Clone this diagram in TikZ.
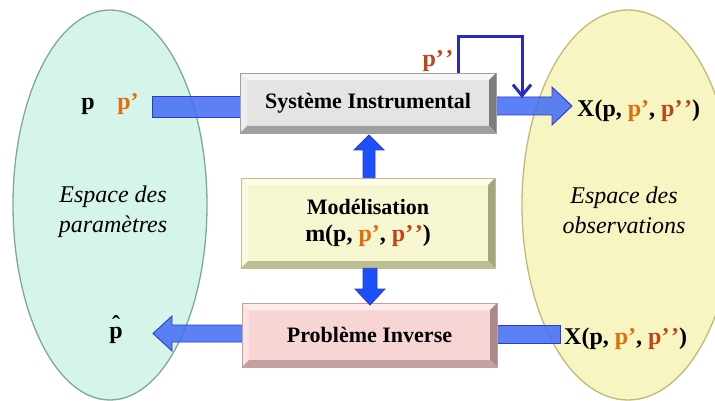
\documentclass[tikz,border=0pt]{standalone}
\usepackage{fontspec}
\setmainfont{Liberation Serif}
\usetikzlibrary{shapes.geometric,calc,arrows.meta}
\definecolor{porange}{HTML}{E46C0A}
\definecolor{pred}{HTML}{C0441A}
\definecolor{arrowfill}{RGB}{70,112,245}
\definecolor{arrowedge}{RGB}{45,60,200}
\definecolor{varrowfill}{RGB}{30,80,250}
\definecolor{fbblue}{RGB}{40,40,195}
\definecolor{lfill}{HTML}{D5F5EB}
\definecolor{ledge}{HTML}{7FA898}
\definecolor{rfill}{HTML}{F7F5C2}
\definecolor{redge}{HTML}{C2BA72}
% box colours
\definecolor{sysfill}{HTML}{E4E4E4}
\definecolor{systop}{HTML}{F6F6F6}
\definecolor{sysleft}{HTML}{EDEDED}
\definecolor{sysright}{HTML}{7C7C7C}
\definecolor{sysbot}{HTML}{A0A0A0}
\definecolor{modfill}{HTML}{F6F6D0}
\definecolor{modtop}{HTML}{FDFDEA}
\definecolor{modleft}{HTML}{FAFADF}
\definecolor{modright}{HTML}{A4A47E}
\definecolor{modbot}{HTML}{BDBD96}
\definecolor{invfill}{HTML}{F8D5D5}
\definecolor{invtop}{HTML}{FDEDED}
\definecolor{invleft}{HTML}{FBE3E3}
\definecolor{invright}{HTML}{A88888}
\definecolor{invbot}{HTML}{C4A0A0}
\newcommand\twoq{’\kern1.5pt’}
\newcommand\myX{X(p, \textcolor{porange}{p’}, \textcolor{pred}{p\twoq})}
\newcommand\myM{m(p, \textcolor{porange}{p’}, \textcolor{pred}{p\twoq})}
\newcommand\harrow[5]{%
  \draw[blk] let \p1=(#1), \p2=(#2), \p3=($(#2)!#5!(#1)$) in
    (\x1,\y2+#3) -- (\x3,\y2+#3) -- (\x3,\y2+#4) -- (\x2,\y2) --
    (\x3,\y2-#4) -- (\x3,\y2-#3) -- (\x1,\y2-#3) -- cycle;}
\newcommand\varrow[5]{%
  \draw[vblk] let \p1=(#1), \p2=(#2), \p3=($(#2)!#5!(#1)$) in
    (\x2+#3,\y1) -- (\x2+#3,\y3) -- (\x2+#4,\y3) -- (\x2,\y2) --
    (\x2-#4,\y3) -- (\x2-#3,\y3) -- (\x2-#3,\y1) -- cycle;}
\tikzset{
  bevel/.style n args={5}{fill=#1, draw=#5, line width=0.6pt,
    path picture={
      \path (path picture bounding box.north west) coordinate (bNW)
            (path picture bounding box.north east) coordinate (bNE)
            (path picture bounding box.south west) coordinate (bSW)
            (path picture bounding box.south east) coordinate (bSE);
      \fill[#2] (bNW) -- (bNE) -- ($(bNE)+(-7pt,-7pt)$) -- ($(bNW)+(7pt,-7pt)$) -- cycle;
      \fill[#3] (bNW) -- (bSW) -- ($(bSW)+(7pt,7pt)$) -- ($(bNW)+(7pt,-7pt)$) -- cycle;
      \fill[#4] (bNE) -- (bSE) -- ($(bSE)+(-7pt,7pt)$) -- ($(bNE)+(-7pt,-7pt)$) -- cycle;
      \fill[#5] (bSW) -- (bSE) -- ($(bSE)+(-7pt,7pt)$) -- ($(bSW)+(7pt,7pt)$) -- cycle;
    }},
  boxfont/.style={font=\fontsize{22}{28}\selectfont\bfseries, align=center, inner sep=0pt}
}
\begin{document}
\begin{tikzpicture}[x=1pt,y=-1pt,
  bfont/.style={font=\fontsize{24}{28}\selectfont\bfseries, inner sep=0pt},
  ifont/.style={font=\fontsize{24}{30}\selectfont\itshape, inner sep=0pt, align=center},
  blk/.style={fill=arrowfill, fill opacity=0.88, draw=arrowedge, line width=0.9pt},
  vblk/.style={fill=varrowfill, draw=arrowedge, line width=0.8pt},
  fb/.style={draw=fbblue, line width=3pt, -{Straight Barb[length=11pt,width=18pt]}},
  spaceell/.style n args={2}{ellipse, fill=#1, draw=#2, line width=1.3pt, inner sep=0pt},
]
\useasboundingbox (0,0) rectangle (715,401);
\fill[white] (0,0) rectangle (715,401);

% spaces
\node[spaceell={lfill}{ledge}, minimum width=194pt, minimum height=390pt] (lell) at (110,205) {};
\node[spaceell={rfill}{redge}, minimum width=212pt, minimum height=390pt] (rell) at (628,205) {};

% texts in spaces
\node[ifont] (lsp) at (113,212) {Espace des\\paramètres};
\node[ifont] (rsp) at (624,210) {Espace des\\observations};
\node[bfont, anchor=base] (p1) at (88,110) {p};
\node[bfont, anchor=base, text=porange] (p2) at (128,110) {p’};
\node[bfont, anchor=base] (ph) at (116,338) {\ooalign{p\cr\hidewidth\raisebox{0.22em}{ˆ}\hidewidth\cr}};
\node[bfont, anchor=base west] (xtop) at (577,117) {\myX};
\node[bfont, anchor=base west] (xbot) at (564,344) {\myX};
\node[bfont, anchor=base, text=pred] (p3) at (438,67) {p\twoq};

% placeholders of the boxes (so that connectors can be drawn beneath them)
\path (368,103) node[minimum width=256pt, minimum height=60pt] (sysph) {};
\path (368,223) node[minimum width=254pt, minimum height=90pt] (modph) {};
\path (369.5,335) node[minimum width=255pt, minimum height=64pt] (invph) {};

% connectors
\coordinate (a1s) at (152,106.5);
\draw[blk] ($(a1s)+(0,-10.5pt)$) rectangle ($(sysph.center |- a1s)+(0,10.5pt)$);
\coordinate (rT) at (572,106);
\harrow{sysph.center |- rT}{rT}{9pt}{19pt}{20pt}
\coordinate (lT) at (153,333.5);
\harrow{invph.center |- lT}{lT}{8.5pt}{17.5pt}{19pt}
\coordinate (b2e) at (560,334);
\draw[blk] ($(invph.center |- b2e)+(0,-9pt)$) rectangle ($(b2e)+(0,9pt)$);

% boxes
\node[bevel={sysfill}{systop}{sysleft}{sysright}{sysbot}, boxfont, minimum width=256pt, minimum height=60pt] (sys) at (368,103) {Système Instrumental};
\node[bevel={modfill}{modtop}{modleft}{modright}{modbot}, boxfont, minimum width=254pt, minimum height=90pt] (mod) at (368,223) {Modélisation\\[-1pt]{\fontsize{24}{28}\selectfont\myM}};
\node[bevel={invfill}{invtop}{invleft}{invright}{invbot}, boxfont, minimum width=255pt, minimum height=64pt] (inv) at (369.5,335) {Problème Inverse};

% vertical arrows
\coordinate (upT) at (369,135);
\varrow{mod.north -| upT}{upT}{6pt}{15pt}{15pt}
\coordinate (dnT) at (370,305);
\varrow{mod.south -| dnT}{dnT}{7pt}{15pt}{16pt}

% feedback loop
\coordinate (fbA) at (458,73);
\coordinate (fbTop) at (522,37);
\coordinate (fbB) at (522,98);
\draw[fb] (fbA) |- (fbTop) -- (fbB);
\end{tikzpicture}
\end{document}
